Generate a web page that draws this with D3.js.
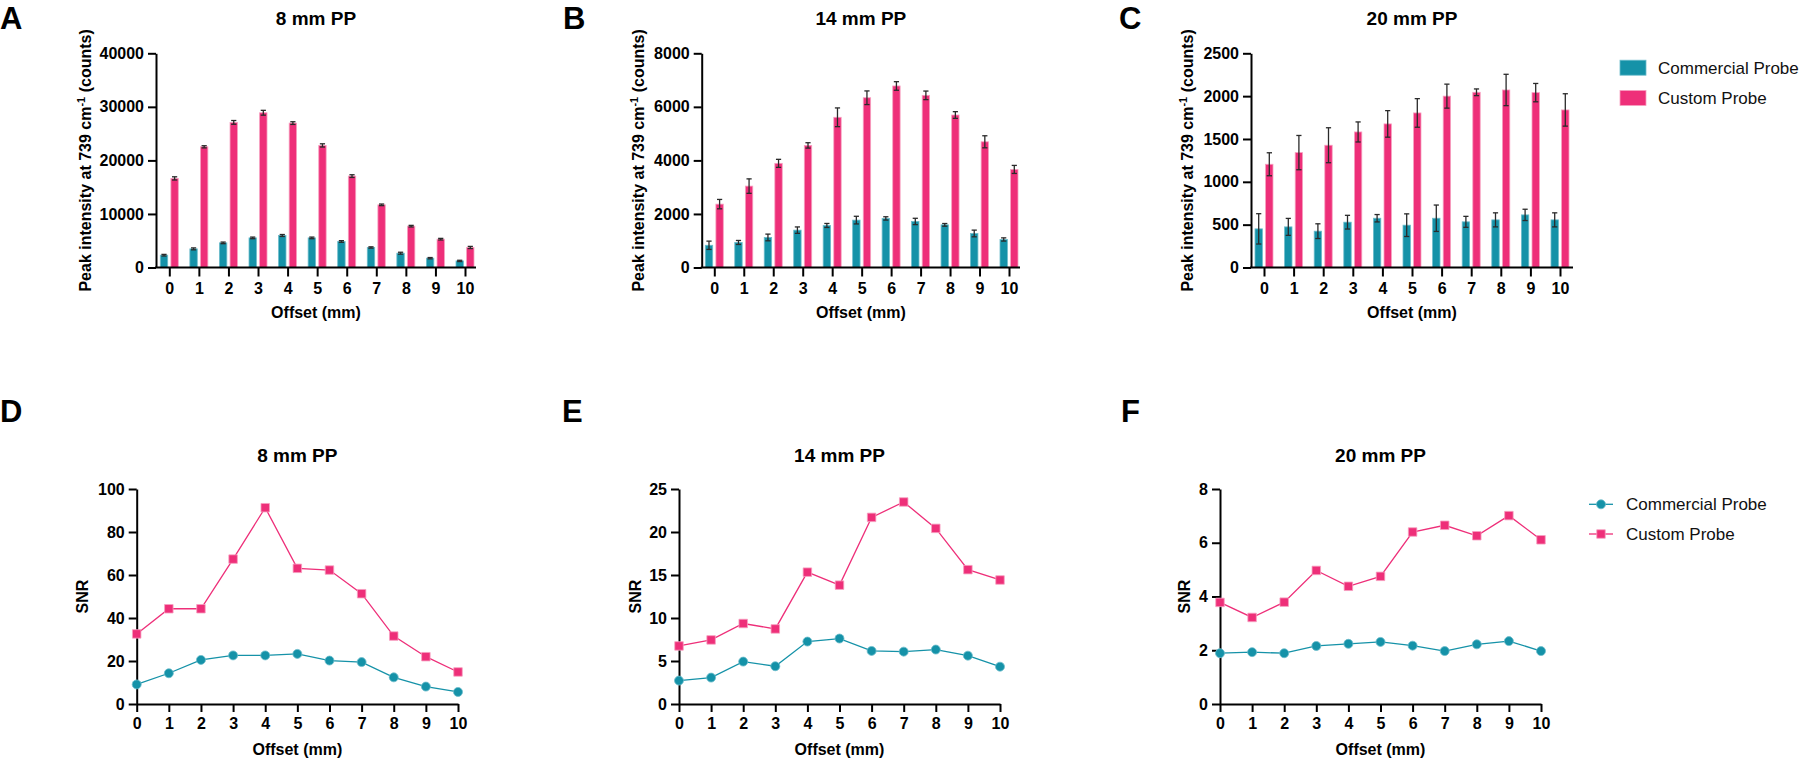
<!DOCTYPE html>
<html>
<head>
<meta charset="utf-8">
<script src="https://cdn.jsdelivr.net/npm/d3@7"></script>
<style>
  body { margin: 0; background: #fff; }
  svg { display: block; font-family: "Liberation Sans", Arial, sans-serif; }
</style>
</head>
<body>
<div id="chart"></div>
<script>
// offsets on the x axis (mm)
var offsets = [0, 1, 2, 3, 4, 5, 6, 7, 8, 9, 10];

// peak intensity at 739 cm-1, mean and error
var comm8 = [2300, 3480, 4600, 5530, 5980, 5530, 4860, 3740, 2670, 1740, 1230];
var comm8Err = [150, 180, 150, 150, 180, 150, 150, 120, 180, 120, 120];
var cust8 = [16640, 22540, 27100, 28900, 26970, 22800, 17070, 11700, 7720, 5290, 3740];
var cust8Err = [300, 200, 350, 450, 250, 300, 250, 150, 150, 150, 200];

var comm14 = [830, 935, 1122, 1395, 1570, 1770, 1833, 1720, 1593, 1271, 1047];
var comm14Err = [155, 75, 125, 120, 75, 143, 62, 118, 50, 125, 60];
var cust14 = [2367, 3040, 3890, 4560, 5610, 6340, 6780, 6430, 5695, 4695, 3663];
var cust14Err = [175, 270, 150, 100, 350, 255, 160, 160, 125, 225, 150];

var comm20 = [451, 474, 424, 529, 575, 494, 575, 533, 556, 614, 556];
var comm20Err = [177, 99, 86, 80, 43, 132, 154, 64, 82, 66, 82];
var cust20 = [1205, 1341, 1427, 1582, 1676, 1804, 2000, 2045, 2072, 2041, 1839];
var cust20Err = [134, 200, 204, 117, 155, 167, 140, 39, 183, 107, 189];

// SNR
var snrComm8 = [9.1, 14.3, 20.5, 22.6, 22.6, 23.3, 20.2, 19.5, 12.4, 8.1, 5.6];
var snrCust8 = [32.6, 44.3, 44.3, 67.4, 91.3, 63.1, 62.3, 51.3, 31.6, 22.0, 14.9];
var snrComm14 = [2.72, 3.07, 4.93, 4.39, 7.26, 7.61, 6.17, 6.09, 6.33, 5.62, 4.34];
var snrCust14 = [6.75, 7.45, 9.36, 8.73, 15.33, 13.82, 21.7, 23.49, 20.42, 15.62, 14.42];
var snrComm20 = [1.89, 1.93, 1.89, 2.16, 2.24, 2.31, 2.17, 1.97, 2.22, 2.34, 1.97];
var snrCust20 = [3.78, 3.22, 3.79, 4.97, 4.38, 4.75, 6.40, 6.65, 6.26, 7.01, 6.11];

// tick labels
var ticks8 = [0, 10000, 20000, 30000, 40000];
var ticks14 = [0, 2000, 4000, 6000, 8000];
var ticks20 = [0, 500, 1000, 1500, 2000, 2500];
var snrTicks8 = [0, 20, 40, 60, 80, 100];
var snrTicks14 = [0, 5, 10, 15, 20, 25];
var snrTicks20 = [0, 2, 4, 6, 8];

var seriesNames = ['Commercial Probe', 'Custom Probe'];

var teal = '#1592a8', tealEdge = '#6cbccb';
var pink = '#ee2f79', pinkEdge = '#f7a0c0';

var svg = d3.select('#chart').append('svg')
    .attr('width', 1800)
    .attr('height', 761);

// 柱状图面板
var barPanels = [
    {letter: 'A', lx: 0, title: '8 mm PP', ax: 156, x0: 169.3, x1: 465, xEnd: 476, ticks: ticks8,
     comm: comm8, commErr: comm8Err, cust: cust8, custErr: cust8Err, labX: 85},
    {letter: 'B', lx: 563, title: '14 mm PP', ax: 701.7, x0: 714.3, x1: 1009, xEnd: 1020, ticks: ticks14,
     comm: comm14, commErr: comm14Err, cust: cust14, custErr: cust14Err, labX: 638},
    {letter: 'C', lx: 1119, title: '20 mm PP', ax: 1251, x0: 1264, x1: 1560, xEnd: 1573, ticks: ticks20,
     comm: comm20, commErr: comm20Err, cust: cust20, custErr: cust20Err, labX: 1187}
];

var linePanels = [
    {letter: 'D', lx: 0, title: '8 mm PP', ax: 136.7, x1: 458, ticks: snrTicks8,
     comm: snrComm8, cust: snrCust8, labX: 82},
    {letter: 'E', lx: 562, title: '14 mm PP', ax: 679, x1: 1000, ticks: snrTicks14,
     comm: snrComm14, cust: snrCust14, labX: 635},
    {letter: 'F', lx: 1121, title: '20 mm PP', ax: 1220, x1: 1541, ticks: snrTicks20,
     comm: snrComm20, cust: snrCust20, labX: 1184}
];

function styleAxis(g) {
    g.selectAll('path, line').attr('stroke', '#000').attr('stroke-width', 2);
    g.selectAll('text')
        .attr('fill', '#000')
        .style('font-size', '16px')
        .style('font-weight', 'bold')
        .style('font-family', '"Liberation Sans", Arial, sans-serif');
}

function squarePath(cx, cy, s) {
    return 'M' + (cx - s / 2) + ',' + (cy - s / 2) + 'h' + s + 'v' + s + 'h' + (-s) + 'Z';
}

// ---- bar charts ----
barPanels.forEach(function(p) {
    var yTop = 53.3, yBot = 267.5;
    var x = d3.scalePoint().domain(offsets).range([p.x0, p.x1]);
    var y = d3.scaleLinear().domain([0, p.ticks[p.ticks.length - 1]]).range([yBot, yTop]);
    var g = svg.append('g');

    g.append('text').attr('x', p.lx).attr('y', 28.5).text(p.letter)
        .style('font-size', '31px').style('font-weight', 'bold');
    g.append('text').attr('x', (p.ax + p.xEnd) / 2).attr('y', 25).attr('text-anchor', 'middle')
        .text(p.title).style('font-size', '19px').style('font-weight', 'bold');

    var bw = 7.4, off = 5.3;
    var bars = [
        {vals: p.comm, errs: p.commErr, dx: -off, fill: teal, edge: tealEdge},
        {vals: p.cust, errs: p.custErr, dx: off, fill: pink, edge: pinkEdge}
    ];
    bars.forEach(function(s) {
        g.append('g').selectAll('rect')
            .data(s.vals)
            .enter()
            .append('rect')
            .attr('x', function(d, i) { return x(offsets[i]) + s.dx - bw / 2; })
            .attr('y', function(d) { return y(d); })
            .attr('width', bw)
            .attr('height', function(d) { return yBot - y(d); })
            .attr('fill', s.fill)
            .attr('stroke', s.edge)
            .attr('stroke-width', 0.8);
        var eb = g.append('g').attr('stroke', '#2a2a2a').attr('stroke-width', 1.3);
        s.vals.forEach(function(v, i) {
            var cx = x(offsets[i]) + s.dx;
            var hi = y(v + s.errs[i]), lo = y(v - s.errs[i]);
            eb.append('line').attr('x1', cx).attr('x2', cx).attr('y1', hi).attr('y2', lo);
            eb.append('line').attr('x1', cx - 2.6).attr('x2', cx + 2.6).attr('y1', hi).attr('y2', hi);
            eb.append('line').attr('x1', cx - 2.6).attr('x2', cx + 2.6).attr('y1', lo).attr('y2', lo);
        });
    });

    var yAxis = g.append('g').attr('transform', 'translate(' + p.ax + ',0)')
        .call(d3.axisLeft(y).tickValues(p.ticks).tickSize(8).tickSizeOuter(0).tickPadding(4)
            .tickFormat(d3.format('d')));
    styleAxis(yAxis);

    var xAxis = g.append('g').attr('transform', 'translate(0,' + yBot + ')')
        .call(d3.axisBottom(x).tickSize(9).tickSizeOuter(0).tickPadding(6));
    xAxis.select('.domain').remove();
    xAxis.append('line').attr('x1', p.ax - 1).attr('x2', p.xEnd).attr('y1', 0).attr('y2', 0);
    styleAxis(xAxis);

    g.append('text').attr('x', (p.ax + p.xEnd) / 2).attr('y', 318).attr('text-anchor', 'middle')
        .text('Offset (mm)').style('font-size', '16px').style('font-weight', 'bold');

    var lab = g.append('text')
        .attr('transform', 'translate(' + p.labX + ',' + ((yTop + yBot) / 2) + ') rotate(-90)')
        .attr('text-anchor', 'middle').attr('dy', '0.35em')
        .style('font-size', '16px').style('font-weight', 'bold');
    lab.append('tspan').text('Peak intensity at 739 cm');
    lab.append('tspan').text('-1').attr('dy', -6).style('font-size', '11px');
    lab.append('tspan').text(' (counts)').attr('dy', 6);
});

// ---- line charts ----
linePanels.forEach(function(p) {
    var yTop = 489, yBot = 704;
    var x = d3.scaleLinear().domain([0, 10]).range([p.ax, p.x1]);
    var y = d3.scaleLinear().domain([0, p.ticks[p.ticks.length - 1]]).range([yBot, yTop]);
    var g = svg.append('g');

    g.append('text').attr('x', p.lx).attr('y', 421.5).text(p.letter)
        .style('font-size', '31px').style('font-weight', 'bold');
    g.append('text').attr('x', (p.ax + p.x1) / 2).attr('y', 461.5).attr('text-anchor', 'middle')
        .text(p.title).style('font-size', '19px').style('font-weight', 'bold');

    var line = d3.line()
        .x(function(d, i) { return x(offsets[i]); })
        .y(function(d) { return y(d); });

    g.append('path').datum(p.comm).attr('d', line)
        .attr('fill', 'none').attr('stroke', teal).attr('stroke-width', 1.3);
    g.append('path').datum(p.cust).attr('d', line)
        .attr('fill', 'none').attr('stroke', pink).attr('stroke-width', 1.3);

    var yAxis = g.append('g').attr('transform', 'translate(' + p.ax + ',0)')
        .call(d3.axisLeft(y).tickValues(p.ticks).tickSize(8).tickSizeOuter(0).tickPadding(4));
    styleAxis(yAxis);
    var xAxis = g.append('g').attr('transform', 'translate(0,' + yBot + ')')
        .call(d3.axisBottom(x).tickValues(offsets).tickSize(8).tickSizeOuter(0).tickPadding(6)
            .tickFormat(d3.format('d')));
    styleAxis(xAxis);

    g.append('g').selectAll('circle')
        .data(p.comm)
        .enter()
        .append('circle')
        .attr('cx', function(d, i) { return x(offsets[i]); })
        .attr('cy', function(d) { return y(d); })
        .attr('r', 4.5)
        .attr('fill', teal)
        .attr('stroke', tealEdge)
        .attr('stroke-width', 0.8);
    g.append('g').selectAll('path')
        .data(p.cust)
        .enter()
        .append('path')
        .attr('d', function(d, i) { return squarePath(x(offsets[i]), y(d), 8.5); })
        .attr('fill', pink)
        .attr('stroke', pinkEdge)
        .attr('stroke-width', 0.8);

    g.append('text').attr('x', (p.ax + p.x1) / 2).attr('y', 755).attr('text-anchor', 'middle')
        .text('Offset (mm)').style('font-size', '16px').style('font-weight', 'bold');
    g.append('text')
        .attr('transform', 'translate(' + p.labX + ',' + ((yTop + yBot) / 2) + ') rotate(-90)')
        .attr('text-anchor', 'middle').attr('dy', '0.35em')
        .text('SNR').style('font-size', '16px').style('font-weight', 'bold');
});

// ---- legends ----
var legTop = svg.append('g');
[teal, pink].forEach(function(c, i) {
    var cy = 67.7 + i * 30.3;
    legTop.append('rect').attr('x', 1620).attr('y', cy - 7.5).attr('width', 26).attr('height', 15)
        .attr('fill', c).attr('stroke', i === 0 ? tealEdge : pinkEdge).attr('stroke-width', 0.8);
    legTop.append('text').attr('x', 1658).attr('y', cy).attr('dy', '0.35em')
        .text(seriesNames[i]).style('font-size', '17px').attr('fill', '#111');
});

var legBot = svg.append('g');
[teal, pink].forEach(function(c, i) {
    var cy = 504.3 + i * 29.7;
    legBot.append('line').attr('x1', 1589).attr('x2', 1613).attr('y1', cy).attr('y2', cy)
        .attr('stroke', c).attr('stroke-width', 1.3);
    if (i === 0) {
        legBot.append('circle').attr('cx', 1601).attr('cy', cy).attr('r', 4.5)
            .attr('fill', c).attr('stroke', tealEdge).attr('stroke-width', 0.8);
    } else {
        legBot.append('path').attr('d', squarePath(1601, cy, 8.5))
            .attr('fill', c).attr('stroke', pinkEdge).attr('stroke-width', 0.8);
    }
    legBot.append('text').attr('x', 1626).attr('y', cy).attr('dy', '0.35em')
        .text(seriesNames[i]).style('font-size', '17px').attr('fill', '#111');
});
</script>
</body>
</html>
